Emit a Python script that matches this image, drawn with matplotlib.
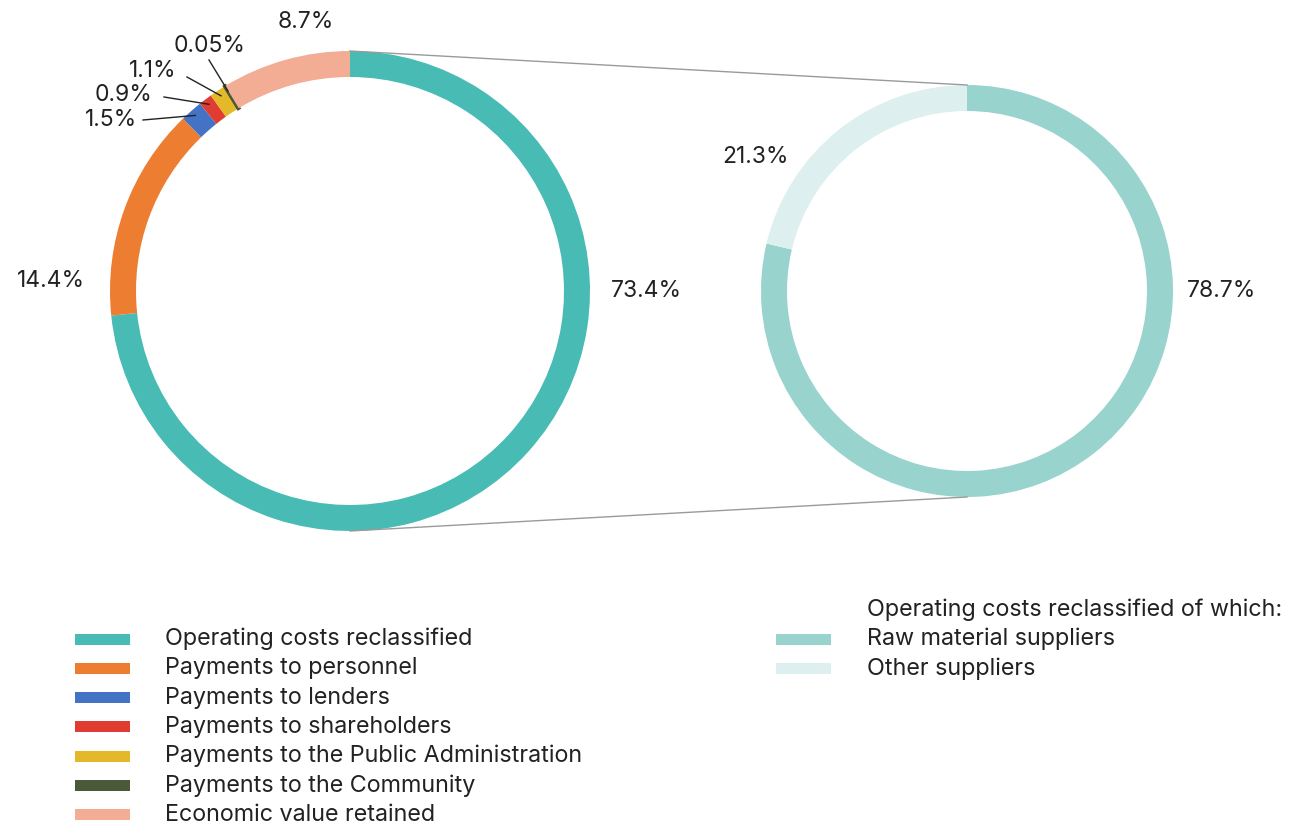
import numpy as np
import matplotlib.pyplot as plt
from matplotlib.patches import Rectangle

plt.rcParams['font.family'] = ['Inter', 'DejaVu Sans']

W, H = 1292, 826

# economic value distributed
categories = ['Operating costs reclassified', 'Payments to personnel',
              'Payments to lenders', 'Payments to shareholders',
              'Payments to the Public Administration',
              'Payments to the Community', 'Economic value retained']
shares = [73.4, 14.4, 1.5, 0.9, 1.1, 0.05, 8.7]
share_labels = ['73.4%', '14.4%', '1.5%', '0.9%', '1.1%', '0.05%', '8.7%']
colors = ['#48bbb5', '#ed7d31', '#4472c4', '#e03c31', '#e3b929',
          '#4a5a38', '#f2ad94']

# breakdown of operating costs
sub_categories = ['Raw material suppliers', 'Other suppliers']
sub_shares = [78.7, 21.3]
sub_labels = ['78.7%', '21.3%']
sub_colors = ['#98d3ce', '#ddefee']
sub_title = 'Operating costs reclassified of which:'

fig = plt.figure(figsize=(W / 100, H / 100), dpi=100)
ax = fig.add_axes([0, 0, 1, 1])


def Y(py):
    return H - py


c1, r1, w1 = (350, Y(291)), 240, 26
c2, r2, w2 = (967, Y(291)), 206, 26

wedges, _ = ax.pie(shares, colors=colors, startangle=90, counterclock=False,
                   center=c1, radius=r1,
                   wedgeprops=dict(width=w1, linewidth=0))
# keep the tiny community slice visible
wedges[5].set_edgecolor(colors[5])
wedges[5].set_linewidth(2.5)

ax.pie(sub_shares, colors=sub_colors, startangle=90, counterclock=False,
       center=c2, radius=r2, wedgeprops=dict(width=w2, linewidth=0))

# connectors between the two rings
ax.plot([c1[0], c2[0]], [c1[1] + r1, c2[1] + r2], color='#9a9a9a', lw=1)
ax.plot([c1[0], c2[0]], [c1[1] - r1, c2[1] - r2], color='#9a9a9a', lw=1)

fs_val = 16.5
fs_leg = 16.8
tc = '#222222'
# labels placed around the main ring
label_pos = {0: (646, 291), 1: (51, 281), 6: (306, 22),
             2: (111, 120), 3: (124, 95), 4: (153, 71), 5: (210, 46)}
line_start = {2: (143, 120), 3: (164, 97), 4: (187, 77), 5: (209, 60)}

for i, w in enumerate(wedges):
    x, y = label_pos[i]
    ax.text(x, Y(y), share_labels[i], fontsize=fs_val, ha='center',
            va='center', color=tc)
    if i in line_start:
        mid = np.deg2rad((w.theta1 + w.theta2) / 2)
        rr = r1 - 6
        ex, ey = c1[0] + rr * np.cos(mid), c1[1] + rr * np.sin(mid)
        sx, sy = line_start[i]
        ax.plot([sx, ex], [Y(sy), ey], color=tc, lw=1)

ax.text(1222, Y(291), sub_labels[0], fontsize=fs_val, ha='center',
        va='center', color=tc)
ax.text(755, Y(157), sub_labels[1], fontsize=fs_val, ha='center',
        va='center', color=tc)

# legends
row0, dy = 639, 29.3
for i, (name, col) in enumerate(zip(categories, colors)):
    yy = row0 + i * dy
    ax.add_patch(Rectangle((75, Y(yy) - 5.5), 55, 11, color=col, lw=0))
    ax.text(165, Y(yy), name, fontsize=fs_leg, va='center', color=tc)

ax.text(867, Y(row0 - dy), sub_title, fontsize=fs_leg, va='center', color=tc)
for i, (name, col) in enumerate(zip(sub_categories, sub_colors)):
    yy = row0 + i * dy
    ax.add_patch(Rectangle((776, Y(yy) - 5.5), 55, 11, color=col, lw=0))
    ax.text(867, Y(yy), name, fontsize=fs_leg, va='center', color=tc)

ax.set_xlim(0, W)
ax.set_ylim(0, H)
ax.set_aspect('equal')
ax.axis('off')

fig.savefig('out.png', dpi=100, facecolor='white')
